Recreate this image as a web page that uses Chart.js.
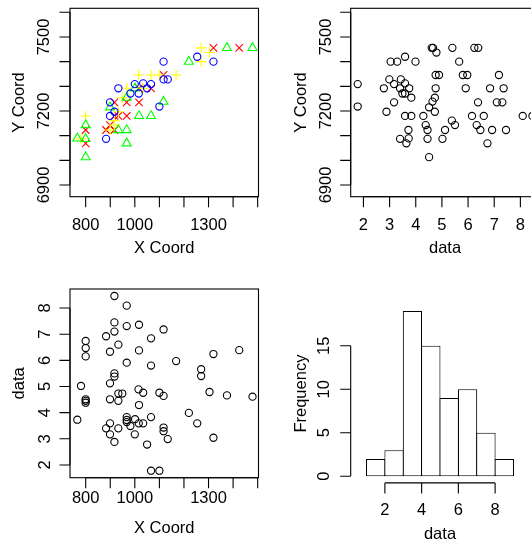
<!DOCTYPE html>
<html><head><meta charset="utf-8">
<script src="https://cdn.jsdelivr.net/npm/chart.js@4.4.1/dist/chart.umd.min.js"></script>
<style>
html,body{margin:0;padding:0;background:#fff;overflow:hidden;width:531px;height:542px;position:relative}
canvas{position:absolute;left:0;top:0}
</style></head><body>
<canvas id="c1" width="560" height="542"></canvas>
<canvas id="c2" width="560" height="542"></canvas>
<canvas id="c3" width="560" height="542"></canvas>
<canvas id="c4" width="560" height="542"></canvas>
<script>
// ---- data ----
const xCoord = [917,967,917,917,967,1017,1117,883,933,899,1066,800,800,800,1017,967,1066,1168,1320,1425,1270,1270,917,917,899,781,1015,1034,933,949,1100,1117,1304,1375,1479,899,800,800,800,933,1017,766,967,967,967,1001,982,1016,1034,1066,1220,1254,899,883,933,899,917,1000,1050,1117,1117,1134,1320,1066,1100];
const yCoord = [7180,7180,7123,7235,7235,7292,7346,7123,7180,7143,7292,7069,7123,7180,7235,7292,7346,7346,7456,7456,7400,7456,7143,7161,7123,7087,7346,7292,7197,7254,7346,7238,7437,7456,7456,7215,7013,7087,7143,7123,7180,7089,7254,7123,7069,7292,7271,7271,7312,7180,7400,7420,7180,7087,7292,7235,7197,7309,7292,7328,7400,7328,7400,7309,7218];
const dataVals = [8.46,8.09,7.45,7.10,7.31,7.36,7.18,6.92,6.60,6.33,6.84,6.74,6.47,6.15,6.38,5.91,5.80,5.97,6.24,6.39,5.66,5.40,5.50,5.38,5.12,5.02,4.89,4.76,4.73,4.73,4.76,4.64,4.79,4.66,4.61,4.51,4.51,4.45,4.38,4.45,4.29,3.73,3.83,3.72,3.64,3.75,3.49,3.59,3.59,3.83,3.99,3.59,3.59,3.40,3.40,3.17,2.88,3.17,2.78,3.43,3.29,2.99,3.04,1.78,1.78];
const histBreaks = [1,2,3,4,5,6,7,8,9];
const histCounts = [2,3,19,15,9,10,5,2];
const coordXTicks = [800,900,1000,1100,1200,1300,1400,1500];
const coordXLabels = [800,1000,1300];
const coordYTicks = [6900,7000,7100,7200,7300,7400,7500,7600];
const coordYLabels = [6900,7200,7500];
const dataTicks = [2,3,4,5,6,7,8];
const histXTicks = [2,4,6,8];
const histYTicks = [0,5,10,15];

// ---- quartile classes (as geoR does) ----
const sorted = dataVals.slice().sort((a,b)=>a-b);
function q7(p){const h=(sorted.length-1)*p, lo=Math.floor(h), hi=Math.min(lo+1,sorted.length-1);return sorted[lo]+(h-lo)*(sorted[hi]-sorted[lo]);}
const qs = [q7(0.25), q7(0.5), q7(0.75)];
const groupOf = d => d <= qs[0] ? 0 : d <= qs[1] ? 1 : d <= qs[2] ? 2 : 3;
const groupStyle = [
  {pointStyle:'circle', color:'#0000FF', r:3.6},
  {pointStyle:'triangle', color:'#00FF00', r:5.2},
  {pointStyle:'cross', color:'#FFFF00', r:5.2},
  {pointStyle:'crossRot', color:'#FF0000', r:5.3}
];

const W = 560, H = 542;
const FONT = '16.5px "Liberation Sans", Arial, Helvetica, sans-serif';
const TL = 10.5;

const rAxes = {
  id:'rAxes',
  afterDraw(chart, args, o){
    if (!o || !o.x) return;
    const ctx = chart.ctx, a = chart.chartArea, xs = chart.scales.x, ys = chart.scales.y;
    ctx.save();
    ctx.strokeStyle = '#000'; ctx.fillStyle = '#000'; ctx.lineWidth = 1.1;
    if (o.box) ctx.strokeRect(a.left, a.top, a.right - a.left, a.bottom - a.top);
    ctx.font = FONT; ctx.textAlign = 'center'; ctx.textBaseline = 'middle';
    // x axis
    const xt = o.x.ticks, yb = a.bottom;
    ctx.beginPath();
    ctx.moveTo(xs.getPixelForValue(xt[0]), yb);
    ctx.lineTo(xs.getPixelForValue(xt[xt.length-1]), yb);
    xt.forEach(v => {const p = xs.getPixelForValue(v); ctx.moveTo(p, yb); ctx.lineTo(p, yb + TL);});
    ctx.stroke();
    o.x.labels.forEach(v => ctx.fillText(String(v), xs.getPixelForValue(v), yb + o.x.labelOff));
    ctx.fillText(o.x.title, (a.left + a.right) / 2, yb + o.x.titleOff);
    // y axis
    const yt = o.y.ticks, xl = a.left;
    ctx.beginPath();
    ctx.moveTo(xl, ys.getPixelForValue(yt[0]));
    ctx.lineTo(xl, ys.getPixelForValue(yt[yt.length-1]));
    yt.forEach(v => {const p = ys.getPixelForValue(v); ctx.moveTo(xl, p); ctx.lineTo(xl - TL, p);});
    ctx.stroke();
    o.y.labels.forEach(v => {
      ctx.save(); ctx.translate(xl - o.y.labelOff, ys.getPixelForValue(v)); ctx.rotate(-Math.PI/2);
      ctx.fillText(String(v), 0, 0); ctx.restore();
    });
    ctx.save(); ctx.translate(xl - o.y.titleOff, (a.top + a.bottom) / 2); ctx.rotate(-Math.PI/2);
    ctx.fillText(o.y.title, 0, 0); ctx.restore();
    ctx.restore();
  }
};
Chart.register(rAxes);

function opts(area, xr, yr, axes){
  return {
    responsive:false, animation:false, devicePixelRatio:1, events:[],
    layout:{padding:{left:area[0], top:area[2], right:W - area[1], bottom:H - area[3]}},
    plugins:{legend:{display:false}, tooltip:{enabled:false}, rAxes:axes},
    scales:{
      x:{type:'linear', display:false, min:xr[0], max:xr[1], ticks:{includeBounds:false, stepSize:1}},
      y:{type:'linear', display:false, min:yr[0], max:yr[1]}
    }
  };
}

const coordXR = [736.2, 1503.4], coordYR = [6852.6, 7616.3];
const dmin = Math.min(...dataVals), dmax = Math.max(...dataVals), dext = 0.04*(dmax - dmin);
const dataR = [dmin - dext, dmax + dext];

// Panel 1: coordinates with quartile symbols
const p1sets = [0,1,2,3].map(g => ({
  data: xCoord.map((x,i)=>({x, y:yCoord[i], g:groupOf(dataVals[i])})).filter(p=>p.g===g),
  showLine:false, pointStyle:groupStyle[g].pointStyle, pointRadius:groupStyle[g].r,
  borderColor:groupStyle[g].color, backgroundColor:'rgba(0,0,0,0)', pointBorderWidth:1.1
}));
new Chart(document.getElementById('c1'), {type:'scatter', data:{datasets:p1sets},
  options: opts([70,258.5,8.3,196.7], coordXR, coordYR, {box:true,
    x:{ticks:coordXTicks, labels:coordXLabels, labelOff:28.3, title:'X Coord', titleOff:51.8},
    y:{ticks:coordYTicks, labels:coordYLabels, labelOff:25.3, title:'Y Coord', titleOff:50.3}})});

// Panel 2: data vs Y Coord
new Chart(document.getElementById('c2'), {type:'scatter', data:{datasets:[{
  data: dataVals.map((d,i)=>({x:d, y:yCoord[i]})), pointStyle:'circle', pointRadius:3.6,
  borderColor:'#000', backgroundColor:'rgba(0,0,0,0)', pointBorderWidth:1.1}]},
  options: opts([350.7,539.4,8.3,196.7], dataR, coordYR, {box:true,
    x:{ticks:dataTicks, labels:dataTicks, labelOff:28.3, title:'data', titleOff:52},
    y:{ticks:coordYTicks, labels:coordYLabels, labelOff:24.7, title:'Y Coord', titleOff:49.7}})});

// Panel 3: X Coord vs data
new Chart(document.getElementById('c3'), {type:'scatter', data:{datasets:[{
  data: xCoord.map((x,i)=>({x, y:dataVals[i]})), pointStyle:'circle', pointRadius:3.6,
  borderColor:'#000', backgroundColor:'rgba(0,0,0,0)', pointBorderWidth:1.1}]},
  options: opts([70,258.5,289,477.7], coordXR, dataR, {box:true,
    x:{ticks:coordXTicks, labels:coordXLabels, labelOff:20.5, title:'X Coord', titleOff:50.5},
    y:{ticks:dataTicks, labels:dataTicks, labelOff:25, title:'data', titleOff:51}})});

// Panel 4: histogram
const hmax = Math.max(...histCounts);
new Chart(document.getElementById('c4'), {type:'bar', data:{datasets:[{
  data: histCounts.map((c,i)=>({x:(histBreaks[i]+histBreaks[i+1])/2, y:c})),
  backgroundColor:'#fff', borderColor:'#000', borderSkipped:false, borderWidth:1.1,
  barPercentage:1.053, categoryPercentage:1, grouped:false}]},
  options: opts([350.7,529.3,304.3,482.9], [histBreaks[0]-0.04*8, histBreaks[8]+0.04*8], [-0.04*hmax, hmax*1.04], {box:false,
    x:{ticks:histXTicks, labels:histXTicks, labelOff:27.3, title:'data', titleOff:51.8},
    y:{ticks:histYTicks, labels:histYTicks, labelOff:26.4, title:'Frequency', titleOff:49.7}})});
</script>
</body></html>
